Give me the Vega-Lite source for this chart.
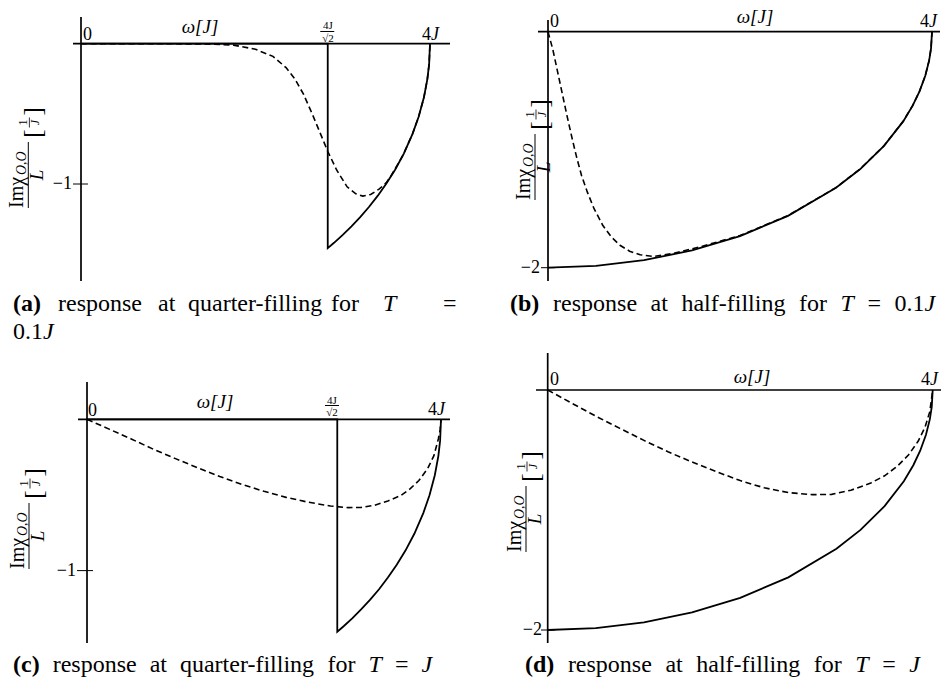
{
  "$schema": "https://vega.github.io/schema/vega-lite/v6.json",
  "padding": 0,
  "background": "white",
  "columns": 2,
  "spacing": 0,
  "bounds": "flush",
  "config": {"font": "Liberation Serif", "view": {"stroke": null}},
  "datasets": {
    "fig": [
      {"p":"a","k":"solid","i":0,"w":0,"v":0},
      {"p":"a","k":"solid","i":1,"w":2.828,"v":0},
      {"p":"a","k":"solid","i":2,"w":2.828,"v":-1.457},
      {"p":"a","k":"solid","i":3,"w":2.9,"v":-1.419},
      {"p":"a","k":"solid","i":4,"w":3.0,"v":-1.362},
      {"p":"a","k":"solid","i":5,"w":3.1,"v":-1.302},
      {"p":"a","k":"solid","i":6,"w":3.2,"v":-1.236},
      {"p":"a","k":"solid","i":7,"w":3.3,"v":-1.164},
      {"p":"a","k":"solid","i":8,"w":3.4,"v":-1.085},
      {"p":"a","k":"solid","i":9,"w":3.5,"v":-0.997},
      {"p":"a","k":"solid","i":10,"w":3.6,"v":-0.898},
      {"p":"a","k":"solid","i":11,"w":3.7,"v":-0.783},
      {"p":"a","k":"solid","i":12,"w":3.8,"v":-0.643},
      {"p":"a","k":"solid","i":13,"w":3.87,"v":-0.521},
      {"p":"a","k":"solid","i":14,"w":3.93,"v":-0.384},
      {"p":"a","k":"solid","i":15,"w":3.97,"v":-0.252},
      {"p":"a","k":"solid","i":16,"w":3.99,"v":-0.146},
      {"p":"a","k":"solid","i":17,"w":4.0,"v":0},
      {"p":"a","k":"dashed","i":0,"w":0,"v":0},
      {"p":"a","k":"dashed","i":1,"w":1.0,"v":0},
      {"p":"a","k":"dashed","i":2,"w":1.5,"v":-0.003},
      {"p":"a","k":"dashed","i":3,"w":1.75,"v":-0.01},
      {"p":"a","k":"dashed","i":4,"w":2.0,"v":-0.04},
      {"p":"a","k":"dashed","i":5,"w":2.2,"v":-0.09},
      {"p":"a","k":"dashed","i":6,"w":2.35,"v":-0.17},
      {"p":"a","k":"dashed","i":7,"w":2.45,"v":-0.25},
      {"p":"a","k":"dashed","i":8,"w":2.55,"v":-0.36},
      {"p":"a","k":"dashed","i":9,"w":2.65,"v":-0.5},
      {"p":"a","k":"dashed","i":10,"w":2.75,"v":-0.65},
      {"p":"a","k":"dashed","i":11,"w":2.83,"v":-0.77},
      {"p":"a","k":"dashed","i":12,"w":2.93,"v":-0.9},
      {"p":"a","k":"dashed","i":13,"w":3.05,"v":-1.02},
      {"p":"a","k":"dashed","i":14,"w":3.15,"v":-1.07},
      {"p":"a","k":"dashed","i":15,"w":3.23,"v":-1.086},
      {"p":"a","k":"dashed","i":16,"w":3.32,"v":-1.075},
      {"p":"a","k":"dashed","i":17,"w":3.42,"v":-1.035},
      {"p":"a","k":"dashed","i":18,"w":3.5,"v":-0.99},
      {"p":"a","k":"dashed","i":19,"w":3.56,"v":-0.935},
      {"p":"a","k":"dashed","i":20,"w":3.65,"v":-0.84},
      {"p":"a","k":"dashed","i":21,"w":3.7,"v":-0.782},
      {"p":"a","k":"dashed","i":22,"w":3.8,"v":-0.642},
      {"p":"a","k":"dashed","i":23,"w":3.87,"v":-0.52},
      {"p":"a","k":"dashed","i":24,"w":3.93,"v":-0.384},
      {"p":"a","k":"dashed","i":25,"w":3.97,"v":-0.25},
      {"p":"a","k":"dashed","i":26,"w":3.99,"v":-0.146},
      {"p":"a","k":"dashed","i":27,"w":4.0,"v":0},
      {"p":"a","k":"axis","w":-0.0917,"v":0,"w2":4.2292,"v2":0},
      {"p":"a","k":"axis","w":0,"v":0.1903,"w2":0,"v2":-1.6914},
      {"p":"a","k":"thin","w":-0.0917,"v":-1,"w2":0.0802,"v2":-1},
      {"p":"a","k":"thin","w":2.742,"v":0.087,"w2":2.9026,"v2":0.087},
      {"p":"a","k":"lbl","w":0.0229,"v":0.0264,"t":"0"},
      {"p":"a","k":"omega","w":1.3639,"v":0.0763,"t":"ω[J]"},
      {"p":"a","k":"small","w":2.8309,"v":0.1048,"t":"4J"},
      {"p":"a","k":"small","w":2.8309,"v":0.0121,"t":"√2"},
      {"p":"a","k":"fourJ","w":4.0115,"v":0.0264},
      {"p":"a","k":"lblr","w":-0.1032,"v":-1,"t":"−1"},
      {"p":"a","k":"yt","w":-0.604,"v":-0.936},
      {"p":"a","k":"cb","w":-0.7794,"v":-1.9052,"t":"(a)"},
      {"p":"a","k":"cr","w":-0.2636,"v":-1.9052,"t":"response"},
      {"p":"a","k":"cr","w":0.8825,"v":-1.9052,"t":"at"},
      {"p":"a","k":"cr","w":1.2264,"v":-1.9052,"t":"quarter-filling"},
      {"p":"a","k":"cr","w":2.8653,"v":-1.9052,"t":"for"},
      {"p":"a","k":"ci","w":3.4613,"v":-1.9052,"t":"T"},
      {"p":"a","k":"cr","w":4.149,"v":-1.9052,"t":"="},
      {"p":"a","k":"cr","w":-0.7794,"v":-2.1048,"t":"0.1"},
      {"p":"a","k":"ci","w":-0.4355,"v":-2.1048,"t":"J"},

      {"p":"b","k":"solid","i":0,"w":0,"v":-2},
      {"p":"b","k":"solid","i":1,"w":0.5,"v":-1.984},
      {"p":"b","k":"solid","i":2,"w":1.0,"v":-1.936},
      {"p":"b","k":"solid","i":3,"w":1.5,"v":-1.854},
      {"p":"b","k":"solid","i":4,"w":2.0,"v":-1.732},
      {"p":"b","k":"solid","i":5,"w":2.5,"v":-1.561},
      {"p":"b","k":"solid","i":6,"w":3.0,"v":-1.323},
      {"p":"b","k":"solid","i":7,"w":3.25,"v":-1.166},
      {"p":"b","k":"solid","i":8,"w":3.5,"v":-0.968},
      {"p":"b","k":"solid","i":9,"w":3.7,"v":-0.76},
      {"p":"b","k":"solid","i":10,"w":3.8,"v":-0.625},
      {"p":"b","k":"solid","i":11,"w":3.87,"v":-0.506},
      {"p":"b","k":"solid","i":12,"w":3.93,"v":-0.373},
      {"p":"b","k":"solid","i":13,"w":3.97,"v":-0.245},
      {"p":"b","k":"solid","i":14,"w":3.99,"v":-0.141},
      {"p":"b","k":"solid","i":15,"w":4.0,"v":0},
      {"p":"b","k":"dashed","i":0,"w":0,"v":0},
      {"p":"b","k":"dashed","i":1,"w":0.05,"v":-0.15},
      {"p":"b","k":"dashed","i":2,"w":0.1,"v":-0.34},
      {"p":"b","k":"dashed","i":3,"w":0.15,"v":-0.53},
      {"p":"b","k":"dashed","i":4,"w":0.2,"v":-0.72},
      {"p":"b","k":"dashed","i":5,"w":0.25,"v":-0.9},
      {"p":"b","k":"dashed","i":6,"w":0.3,"v":-1.07},
      {"p":"b","k":"dashed","i":7,"w":0.35,"v":-1.22},
      {"p":"b","k":"dashed","i":8,"w":0.41,"v":-1.36},
      {"p":"b","k":"dashed","i":9,"w":0.48,"v":-1.5},
      {"p":"b","k":"dashed","i":10,"w":0.57,"v":-1.64},
      {"p":"b","k":"dashed","i":11,"w":0.66,"v":-1.74},
      {"p":"b","k":"dashed","i":12,"w":0.75,"v":-1.81},
      {"p":"b","k":"dashed","i":13,"w":0.85,"v":-1.86},
      {"p":"b","k":"dashed","i":14,"w":0.96,"v":-1.89},
      {"p":"b","k":"dashed","i":15,"w":1.1,"v":-1.905},
      {"p":"b","k":"dashed","i":16,"w":1.3,"v":-1.88},
      {"p":"b","k":"dashed","i":17,"w":1.6,"v":-1.82},
      {"p":"b","k":"dashed","i":18,"w":2.0,"v":-1.728},
      {"p":"b","k":"dashed","i":19,"w":2.5,"v":-1.558},
      {"p":"b","k":"dashed","i":20,"w":3.0,"v":-1.321},
      {"p":"b","k":"dashed","i":21,"w":3.25,"v":-1.164},
      {"p":"b","k":"dashed","i":22,"w":3.5,"v":-0.967},
      {"p":"b","k":"dashed","i":23,"w":3.7,"v":-0.759},
      {"p":"b","k":"dashed","i":24,"w":3.8,"v":-0.624},
      {"p":"b","k":"dashed","i":25,"w":3.87,"v":-0.505},
      {"p":"b","k":"dashed","i":26,"w":3.93,"v":-0.372},
      {"p":"b","k":"dashed","i":27,"w":3.97,"v":-0.244},
      {"p":"b","k":"dashed","i":28,"w":3.99,"v":-0.14},
      {"p":"b","k":"dashed","i":29,"w":4.0,"v":0},
      {"p":"b","k":"axis","w":-0.1042,"v":0,"w2":4.0833,"v2":0},
      {"p":"b","k":"axis","w":0,"v":0.0992,"w2":0,"v2":-2.1127},
      {"p":"b","k":"thin","w":-0.0729,"v":-2,"w2":0.0729,"v2":-2},
      {"p":"b","k":"lbl","w":0.0208,"v":0.0398,"t":"0"},
      {"p":"b","k":"omega","w":2.1563,"v":0.0712,"t":"ω[J]"},
      {"p":"b","k":"fourJ","w":3.9688,"v":0.0398},
      {"p":"b","k":"lblr","w":-0.0833,"v":-2,"t":"−2"},
      {"p":"b","k":"yt","w":-0.1354,"v":-1.1466},
      {"p":"b","k":"cb","w":-0.3958,"v":-2.3669,"t":"(b)"},
      {"p":"b","k":"cr","w":0.0528,"v":-2.3669,"t":"response"},
      {"p":"b","k":"cr","w":1.0686,"v":-2.3669,"t":"at"},
      {"p":"b","k":"cr","w":1.3902,"v":-2.3669,"t":"half-filling"},
      {"p":"b","k":"cr","w":2.6146,"v":-2.3669,"t":"for"},
      {"p":"b","k":"ci","w":3.0471,"v":-2.3669,"t":"T"},
      {"p":"b","k":"cr","w":3.3271,"v":-2.3669,"t":"="},
      {"p":"b","k":"cr","w":3.6092,"v":-2.3669,"t":"0.1"},
      {"p":"b","k":"ci","w":3.9217,"v":-2.3669,"t":"J"},

      {"p":"c","k":"solid","i":0,"w":0,"v":0},
      {"p":"c","k":"solid","i":1,"w":2.828,"v":0},
      {"p":"c","k":"solid","i":2,"w":2.828,"v":-1.404},
      {"p":"c","k":"solid","i":3,"w":2.9,"v":-1.368},
      {"p":"c","k":"solid","i":4,"w":3.0,"v":-1.314},
      {"p":"c","k":"solid","i":5,"w":3.1,"v":-1.255},
      {"p":"c","k":"solid","i":6,"w":3.2,"v":-1.192},
      {"p":"c","k":"solid","i":7,"w":3.3,"v":-1.123},
      {"p":"c","k":"solid","i":8,"w":3.4,"v":-1.046},
      {"p":"c","k":"solid","i":9,"w":3.5,"v":-0.961},
      {"p":"c","k":"solid","i":10,"w":3.6,"v":-0.866},
      {"p":"c","k":"solid","i":11,"w":3.7,"v":-0.755},
      {"p":"c","k":"solid","i":12,"w":3.8,"v":-0.62},
      {"p":"c","k":"solid","i":13,"w":3.87,"v":-0.502},
      {"p":"c","k":"solid","i":14,"w":3.93,"v":-0.37},
      {"p":"c","k":"solid","i":15,"w":3.97,"v":-0.243},
      {"p":"c","k":"solid","i":16,"w":3.99,"v":-0.141},
      {"p":"c","k":"solid","i":17,"w":4.0,"v":0},
      {"p":"c","k":"dashed","i":0,"w":0,"v":0},
      {"p":"c","k":"dashed","i":1,"w":0.25,"v":-0.065},
      {"p":"c","k":"dashed","i":2,"w":0.5,"v":-0.13},
      {"p":"c","k":"dashed","i":3,"w":0.75,"v":-0.198},
      {"p":"c","k":"dashed","i":4,"w":1.0,"v":-0.26},
      {"p":"c","k":"dashed","i":5,"w":1.25,"v":-0.32},
      {"p":"c","k":"dashed","i":6,"w":1.5,"v":-0.378},
      {"p":"c","k":"dashed","i":7,"w":1.75,"v":-0.43},
      {"p":"c","k":"dashed","i":8,"w":2.0,"v":-0.476},
      {"p":"c","k":"dashed","i":9,"w":2.25,"v":-0.516},
      {"p":"c","k":"dashed","i":10,"w":2.5,"v":-0.548},
      {"p":"c","k":"dashed","i":11,"w":2.75,"v":-0.573},
      {"p":"c","k":"dashed","i":12,"w":2.95,"v":-0.584},
      {"p":"c","k":"dashed","i":13,"w":3.1,"v":-0.582},
      {"p":"c","k":"dashed","i":14,"w":3.25,"v":-0.568},
      {"p":"c","k":"dashed","i":15,"w":3.4,"v":-0.54},
      {"p":"c","k":"dashed","i":16,"w":3.55,"v":-0.502},
      {"p":"c","k":"dashed","i":17,"w":3.65,"v":-0.46},
      {"p":"c","k":"dashed","i":18,"w":3.75,"v":-0.405},
      {"p":"c","k":"dashed","i":19,"w":3.85,"v":-0.325},
      {"p":"c","k":"dashed","i":20,"w":3.92,"v":-0.24},
      {"p":"c","k":"dashed","i":21,"w":3.97,"v":-0.13},
      {"p":"c","k":"dashed","i":22,"w":3.99,"v":-0.07},
      {"p":"c","k":"dashed","i":23,"w":4.0,"v":0},
      {"p":"c","k":"axis","w":-0.1017,"v":0,"w2":4.1017,"v2":0},
      {"p":"c","k":"axis","w":0,"v":0.2465,"w2":0,"v2":-1.4785},
      {"p":"c","k":"thin","w":-0.113,"v":-1,"w2":0.0678,"v2":-1},
      {"p":"c","k":"thin","w":2.6893,"v":0.0912,"w2":2.8475,"v2":0.0912},
      {"p":"c","k":"lbl","w":0.0113,"v":0.0218,"t":"0"},
      {"p":"c","k":"omega","w":1.4463,"v":0.0747,"t":"ω[J]"},
      {"p":"c","k":"small","w":2.7684,"v":0.1011,"t":"4J"},
      {"p":"c","k":"small","w":2.7684,"v":0.0218,"t":"√2"},
      {"p":"c","k":"fourJ","w":3.9548,"v":0.0284},
      {"p":"c","k":"lblr","w":-0.1243,"v":-1,"t":"−1"},
      {"p":"c","k":"yt","w":-0.6554,"v":-0.7713},
      {"p":"c","k":"cb","w":-0.8362,"v":-1.6702,"t":"(c)"},
      {"p":"c","k":"cr","w":-0.3882,"v":-1.6702,"t":"response"},
      {"p":"c","k":"cr","w":0.7076,"v":-1.6702,"t":"at"},
      {"p":"c","k":"cr","w":1.0503,"v":-1.6702,"t":"quarter-filling"},
      {"p":"c","k":"cr","w":2.7185,"v":-1.6702,"t":"for"},
      {"p":"c","k":"ci","w":3.1816,"v":-1.6702,"t":"T"},
      {"p":"c","k":"cr","w":3.4792,"v":-1.6702,"t":"="},
      {"p":"c","k":"ci","w":3.7791,"v":-1.6702,"t":"J"},

      {"p":"d","k":"solid","i":0,"w":0,"v":-2},
      {"p":"d","k":"solid","i":1,"w":0.5,"v":-1.984},
      {"p":"d","k":"solid","i":2,"w":1.0,"v":-1.936},
      {"p":"d","k":"solid","i":3,"w":1.5,"v":-1.854},
      {"p":"d","k":"solid","i":4,"w":2.0,"v":-1.732},
      {"p":"d","k":"solid","i":5,"w":2.5,"v":-1.561},
      {"p":"d","k":"solid","i":6,"w":3.0,"v":-1.323},
      {"p":"d","k":"solid","i":7,"w":3.25,"v":-1.166},
      {"p":"d","k":"solid","i":8,"w":3.5,"v":-0.968},
      {"p":"d","k":"solid","i":9,"w":3.7,"v":-0.76},
      {"p":"d","k":"solid","i":10,"w":3.8,"v":-0.625},
      {"p":"d","k":"solid","i":11,"w":3.87,"v":-0.506},
      {"p":"d","k":"solid","i":12,"w":3.93,"v":-0.373},
      {"p":"d","k":"solid","i":13,"w":3.97,"v":-0.245},
      {"p":"d","k":"solid","i":14,"w":3.99,"v":-0.141},
      {"p":"d","k":"solid","i":15,"w":4.0,"v":0},
      {"p":"d","k":"dashed","i":0,"w":0,"v":0},
      {"p":"d","k":"dashed","i":1,"w":0.25,"v":-0.11},
      {"p":"d","k":"dashed","i":2,"w":0.5,"v":-0.218},
      {"p":"d","k":"dashed","i":3,"w":0.75,"v":-0.32},
      {"p":"d","k":"dashed","i":4,"w":1.0,"v":-0.42},
      {"p":"d","k":"dashed","i":5,"w":1.25,"v":-0.515},
      {"p":"d","k":"dashed","i":6,"w":1.5,"v":-0.6},
      {"p":"d","k":"dashed","i":7,"w":1.75,"v":-0.68},
      {"p":"d","k":"dashed","i":8,"w":2.0,"v":-0.755},
      {"p":"d","k":"dashed","i":9,"w":2.25,"v":-0.815},
      {"p":"d","k":"dashed","i":10,"w":2.5,"v":-0.855},
      {"p":"d","k":"dashed","i":11,"w":2.75,"v":-0.872},
      {"p":"d","k":"dashed","i":12,"w":2.95,"v":-0.87},
      {"p":"d","k":"dashed","i":13,"w":3.15,"v":-0.835},
      {"p":"d","k":"dashed","i":14,"w":3.35,"v":-0.778},
      {"p":"d","k":"dashed","i":15,"w":3.5,"v":-0.715},
      {"p":"d","k":"dashed","i":16,"w":3.63,"v":-0.637},
      {"p":"d","k":"dashed","i":17,"w":3.75,"v":-0.54},
      {"p":"d","k":"dashed","i":18,"w":3.85,"v":-0.425},
      {"p":"d","k":"dashed","i":19,"w":3.92,"v":-0.31},
      {"p":"d","k":"dashed","i":20,"w":3.97,"v":-0.18},
      {"p":"d","k":"dashed","i":21,"w":4.0,"v":0},
      {"p":"d","k":"axis","w":-0.1216,"v":0,"w2":4.0862,"v2":0},
      {"p":"d","k":"axis","w":0,"v":0.3083,"w2":0,"v2":-2.1083},
      {"p":"d","k":"thin","w":-0.0696,"v":-2,"w2":0.0758,"v2":-2},
      {"p":"d","k":"lbl","w":0.0239,"v":0.0417,"t":"0"},
      {"p":"d","k":"omega","w":2.1226,"v":0.0583,"t":"ω[J]"},
      {"p":"d","k":"fourJ","w":3.9719,"v":0.0417},
      {"p":"d","k":"lblr","w":-0.0592,"v":-2,"t":"−2"},
      {"p":"d","k":"yt","w":-0.2255,"v":-1.075},
      {"p":"d","k":"cb","w":-0.2358,"v":-2.35,"t":"(d)"},
      {"p":"d","k":"cr","w":0.2096,"v":-2.35,"t":"response"},
      {"p":"d","k":"cr","w":1.2228,"v":-2.35,"t":"at"},
      {"p":"d","k":"cr","w":1.5435,"v":-2.35,"t":"half-filling"},
      {"p":"d","k":"cr","w":2.7647,"v":-2.35,"t":"for"},
      {"p":"d","k":"ci","w":3.196,"v":-2.35,"t":"T"},
      {"p":"d","k":"cr","w":3.4753,"v":-2.35,"t":"="},
      {"p":"d","k":"ci","w":3.7567,"v":-2.35,"t":"J"}
    ]
  },
  "concat": [
    {
      "width": 470, "height": 330,
      "data": {"name": "fig"},
      "transform": [{"filter": "datum.p == 'a'"}],
      "encoding": {
        "x": {"field": "w", "type": "quantitative", "scale": {"domain": [-0.9284, 4.4585], "nice": false, "zero": false}, "axis": null},
        "y": {"field": "v", "type": "quantitative", "scale": {"domain": [-2.0406, 0.3115], "nice": false, "zero": false}, "axis": null}
      },
      "layer": [
        {"transform": [{"filter": "datum.k == 'axis'"}], "mark": {"type": "rule", "color": "black", "strokeWidth": 1.7}, "encoding": {"x2": {"field": "w2"}, "y2": {"field": "v2"}}},
        {"transform": [{"filter": "datum.k == 'thin'"}], "mark": {"type": "rule", "color": "black", "strokeWidth": 1}, "encoding": {"x2": {"field": "w2"}, "y2": {"field": "v2"}}},
        {"transform": [{"filter": "datum.k == 'solid'"}], "mark": {"type": "line", "color": "black", "strokeWidth": 1.8}, "encoding": {"order": {"field": "i", "type": "quantitative"}}},
        {"transform": [{"filter": "datum.k == 'dashed'"}], "mark": {"type": "line", "color": "black", "strokeWidth": 1.6, "strokeDash": [6, 3.5]}, "encoding": {"order": {"field": "i", "type": "quantitative"}}},
        {"transform": [{"filter": "datum.k == 'lbl'"}], "mark": {"type": "text", "fontSize": 18, "align": "left", "baseline": "alphabetic"}, "encoding": {"text": {"field": "t"}}},
        {"transform": [{"filter": "datum.k == 'lblr'"}], "mark": {"type": "text", "fontSize": 18, "align": "right", "baseline": "middle"}, "encoding": {"text": {"field": "t"}}},
        {"transform": [{"filter": "datum.k == 'fourJ'"}], "mark": {"type": "text", "text": "4", "fontSize": 18, "align": "right", "baseline": "alphabetic"}},
        {"transform": [{"filter": "datum.k == 'fourJ'"}], "mark": {"type": "text", "text": "J", "fontSize": 18, "fontStyle": "italic", "align": "left", "baseline": "alphabetic"}},
        {"transform": [{"filter": "datum.k == 'omega'"}], "mark": {"type": "text", "fontSize": 19, "fontStyle": "italic", "align": "center", "baseline": "alphabetic"}, "encoding": {"text": {"field": "t"}}},
        {"transform": [{"filter": "datum.k == 'small'"}], "mark": {"type": "text", "fontSize": 11, "align": "center", "baseline": "alphabetic"}, "encoding": {"text": {"field": "t"}}},
        {"transform": [{"filter": "datum.k == 'cb'"}], "mark": {"type": "text", "fontSize": 24, "fontWeight": "bold", "align": "left", "baseline": "alphabetic"}, "encoding": {"text": {"field": "t"}}},
        {"transform": [{"filter": "datum.k == 'cr'"}], "mark": {"type": "text", "fontSize": 24, "align": "left", "baseline": "alphabetic"}, "encoding": {"text": {"field": "t"}}},
        {"transform": [{"filter": "datum.k == 'ci'"}], "mark": {"type": "text", "fontSize": 24, "fontStyle": "italic", "align": "left", "baseline": "alphabetic"}, "encoding": {"text": {"field": "t"}}},
        {"transform": [{"filter": "datum.k == 'yt'"}], "mark": {"type": "text", "text": "Imχ", "angle": 270, "fontSize": 20, "align": "left", "baseline": "alphabetic", "dx": -33, "dy": -5}},
        {"transform": [{"filter": "datum.k == 'yt'"}], "mark": {"type": "text", "text": "O,O", "angle": 270, "fontSize": 14, "fontStyle": "italic", "align": "left", "baseline": "alphabetic", "dx": 0, "dy": -2}},
        {"transform": [{"filter": "datum.k == 'yt'"}], "mark": {"type": "tick", "orient": "vertical", "size": 66, "thickness": 1, "color": "black", "opacity": 1}},
        {"transform": [{"filter": "datum.k == 'yt'"}], "mark": {"type": "text", "text": "L", "angle": 270, "fontSize": 19, "fontStyle": "italic", "align": "center", "baseline": "alphabetic", "dy": 15}},
        {"transform": [{"filter": "datum.k == 'yt'"}], "mark": {"type": "text", "text": "[", "angle": 270, "fontSize": 26, "align": "left", "baseline": "alphabetic", "dx": 37, "dy": 13}},
        {"transform": [{"filter": "datum.k == 'yt'"}], "mark": {"type": "text", "text": "1", "angle": 270, "fontSize": 12, "align": "center", "baseline": "alphabetic", "dx": 52.5, "dy": -1}},
        {"transform": [{"filter": "datum.k == 'yt'"}], "mark": {"type": "tick", "orient": "vertical", "size": 10, "thickness": 0.8, "color": "black", "opacity": 1, "yOffset": -52.5, "xOffset": 1}},
        {"transform": [{"filter": "datum.k == 'yt'"}], "mark": {"type": "text", "text": "J", "angle": 270, "fontSize": 12, "fontStyle": "italic", "align": "center", "baseline": "alphabetic", "dx": 52.5, "dy": 11}},
        {"transform": [{"filter": "datum.k == 'yt'"}], "mark": {"type": "text", "text": "]", "angle": 270, "fontSize": 26, "align": "right", "baseline": "alphabetic", "dx": 68, "dy": 13}}
      ]
    },
    {
      "width": 471, "height": 330,
      "data": {"name": "fig"},
      "transform": [{"filter": "datum.p == 'b'"}],
      "encoding": {
        "x": {"field": "w", "type": "quantitative", "scale": {"domain": [-0.8125, 4.09375], "nice": false, "zero": false}, "axis": null},
        "y": {"field": "v", "type": "quantitative", "scale": {"domain": [-2.528, 0.2686], "nice": false, "zero": false}, "axis": null}
      },
      "layer": [
        {"transform": [{"filter": "datum.k == 'axis'"}], "mark": {"type": "rule", "color": "black", "strokeWidth": 1.7}, "encoding": {"x2": {"field": "w2"}, "y2": {"field": "v2"}}},
        {"transform": [{"filter": "datum.k == 'thin'"}], "mark": {"type": "rule", "color": "black", "strokeWidth": 1}, "encoding": {"x2": {"field": "w2"}, "y2": {"field": "v2"}}},
        {"transform": [{"filter": "datum.k == 'solid'"}], "mark": {"type": "line", "color": "black", "strokeWidth": 1.8}, "encoding": {"order": {"field": "i", "type": "quantitative"}}},
        {"transform": [{"filter": "datum.k == 'dashed'"}], "mark": {"type": "line", "color": "black", "strokeWidth": 1.6, "strokeDash": [6, 3.5]}, "encoding": {"order": {"field": "i", "type": "quantitative"}}},
        {"transform": [{"filter": "datum.k == 'lbl'"}], "mark": {"type": "text", "fontSize": 18, "align": "left", "baseline": "alphabetic"}, "encoding": {"text": {"field": "t"}}},
        {"transform": [{"filter": "datum.k == 'lblr'"}], "mark": {"type": "text", "fontSize": 18, "align": "right", "baseline": "middle"}, "encoding": {"text": {"field": "t"}}},
        {"transform": [{"filter": "datum.k == 'fourJ'"}], "mark": {"type": "text", "text": "4", "fontSize": 18, "align": "right", "baseline": "alphabetic"}},
        {"transform": [{"filter": "datum.k == 'fourJ'"}], "mark": {"type": "text", "text": "J", "fontSize": 18, "fontStyle": "italic", "align": "left", "baseline": "alphabetic"}},
        {"transform": [{"filter": "datum.k == 'omega'"}], "mark": {"type": "text", "fontSize": 19, "fontStyle": "italic", "align": "center", "baseline": "alphabetic"}, "encoding": {"text": {"field": "t"}}},
        {"transform": [{"filter": "datum.k == 'small'"}], "mark": {"type": "text", "fontSize": 11, "align": "center", "baseline": "alphabetic"}, "encoding": {"text": {"field": "t"}}},
        {"transform": [{"filter": "datum.k == 'cb'"}], "mark": {"type": "text", "fontSize": 24, "fontWeight": "bold", "align": "left", "baseline": "alphabetic"}, "encoding": {"text": {"field": "t"}}},
        {"transform": [{"filter": "datum.k == 'cr'"}], "mark": {"type": "text", "fontSize": 24, "align": "left", "baseline": "alphabetic"}, "encoding": {"text": {"field": "t"}}},
        {"transform": [{"filter": "datum.k == 'ci'"}], "mark": {"type": "text", "fontSize": 24, "fontStyle": "italic", "align": "left", "baseline": "alphabetic"}, "encoding": {"text": {"field": "t"}}},
        {"transform": [{"filter": "datum.k == 'yt'"}], "mark": {"type": "text", "text": "Imχ", "angle": 270, "fontSize": 20, "align": "left", "baseline": "alphabetic", "dx": -33, "dy": -5}},
        {"transform": [{"filter": "datum.k == 'yt'"}], "mark": {"type": "text", "text": "O,O", "angle": 270, "fontSize": 14, "fontStyle": "italic", "align": "left", "baseline": "alphabetic", "dx": 0, "dy": -2}},
        {"transform": [{"filter": "datum.k == 'yt'"}], "mark": {"type": "tick", "orient": "vertical", "size": 66, "thickness": 1, "color": "black", "opacity": 1}},
        {"transform": [{"filter": "datum.k == 'yt'"}], "mark": {"type": "text", "text": "L", "angle": 270, "fontSize": 19, "fontStyle": "italic", "align": "center", "baseline": "alphabetic", "dy": 15}},
        {"transform": [{"filter": "datum.k == 'yt'"}], "mark": {"type": "text", "text": "[", "angle": 270, "fontSize": 26, "align": "left", "baseline": "alphabetic", "dx": 37, "dy": 13}},
        {"transform": [{"filter": "datum.k == 'yt'"}], "mark": {"type": "text", "text": "1", "angle": 270, "fontSize": 12, "align": "center", "baseline": "alphabetic", "dx": 52.5, "dy": -1}},
        {"transform": [{"filter": "datum.k == 'yt'"}], "mark": {"type": "tick", "orient": "vertical", "size": 10, "thickness": 0.8, "color": "black", "opacity": 1, "yOffset": -52.5, "xOffset": 1}},
        {"transform": [{"filter": "datum.k == 'yt'"}], "mark": {"type": "text", "text": "J", "angle": 270, "fontSize": 12, "fontStyle": "italic", "align": "center", "baseline": "alphabetic", "dx": 52.5, "dy": 11}},
        {"transform": [{"filter": "datum.k == 'yt'"}], "mark": {"type": "text", "text": "]", "angle": 270, "fontSize": 26, "align": "right", "baseline": "alphabetic", "dx": 68, "dy": 13}}
      ]
    },
    {
      "width": 470, "height": 352,
      "data": {"name": "fig"},
      "transform": [{"filter": "datum.p == 'c'"}],
      "encoding": {
        "x": {"field": "w", "type": "quantitative", "scale": {"domain": [-0.9831, 4.3277], "nice": false, "zero": false}, "axis": null},
        "y": {"field": "v", "type": "quantitative", "scale": {"domain": [-1.7363, 0.5902], "nice": false, "zero": false}, "axis": null}
      },
      "layer": [
        {"transform": [{"filter": "datum.k == 'axis'"}], "mark": {"type": "rule", "color": "black", "strokeWidth": 1.7}, "encoding": {"x2": {"field": "w2"}, "y2": {"field": "v2"}}},
        {"transform": [{"filter": "datum.k == 'thin'"}], "mark": {"type": "rule", "color": "black", "strokeWidth": 1}, "encoding": {"x2": {"field": "w2"}, "y2": {"field": "v2"}}},
        {"transform": [{"filter": "datum.k == 'solid'"}], "mark": {"type": "line", "color": "black", "strokeWidth": 1.8}, "encoding": {"order": {"field": "i", "type": "quantitative"}}},
        {"transform": [{"filter": "datum.k == 'dashed'"}], "mark": {"type": "line", "color": "black", "strokeWidth": 1.6, "strokeDash": [6, 3.5]}, "encoding": {"order": {"field": "i", "type": "quantitative"}}},
        {"transform": [{"filter": "datum.k == 'lbl'"}], "mark": {"type": "text", "fontSize": 18, "align": "left", "baseline": "alphabetic"}, "encoding": {"text": {"field": "t"}}},
        {"transform": [{"filter": "datum.k == 'lblr'"}], "mark": {"type": "text", "fontSize": 18, "align": "right", "baseline": "middle"}, "encoding": {"text": {"field": "t"}}},
        {"transform": [{"filter": "datum.k == 'fourJ'"}], "mark": {"type": "text", "text": "4", "fontSize": 18, "align": "right", "baseline": "alphabetic"}},
        {"transform": [{"filter": "datum.k == 'fourJ'"}], "mark": {"type": "text", "text": "J", "fontSize": 18, "fontStyle": "italic", "align": "left", "baseline": "alphabetic"}},
        {"transform": [{"filter": "datum.k == 'omega'"}], "mark": {"type": "text", "fontSize": 19, "fontStyle": "italic", "align": "center", "baseline": "alphabetic"}, "encoding": {"text": {"field": "t"}}},
        {"transform": [{"filter": "datum.k == 'small'"}], "mark": {"type": "text", "fontSize": 11, "align": "center", "baseline": "alphabetic"}, "encoding": {"text": {"field": "t"}}},
        {"transform": [{"filter": "datum.k == 'cb'"}], "mark": {"type": "text", "fontSize": 24, "fontWeight": "bold", "align": "left", "baseline": "alphabetic"}, "encoding": {"text": {"field": "t"}}},
        {"transform": [{"filter": "datum.k == 'cr'"}], "mark": {"type": "text", "fontSize": 24, "align": "left", "baseline": "alphabetic"}, "encoding": {"text": {"field": "t"}}},
        {"transform": [{"filter": "datum.k == 'ci'"}], "mark": {"type": "text", "fontSize": 24, "fontStyle": "italic", "align": "left", "baseline": "alphabetic"}, "encoding": {"text": {"field": "t"}}},
        {"transform": [{"filter": "datum.k == 'yt'"}], "mark": {"type": "text", "text": "Imχ", "angle": 270, "fontSize": 20, "align": "left", "baseline": "alphabetic", "dx": -33, "dy": -5}},
        {"transform": [{"filter": "datum.k == 'yt'"}], "mark": {"type": "text", "text": "O,O", "angle": 270, "fontSize": 14, "fontStyle": "italic", "align": "left", "baseline": "alphabetic", "dx": 0, "dy": -2}},
        {"transform": [{"filter": "datum.k == 'yt'"}], "mark": {"type": "tick", "orient": "vertical", "size": 66, "thickness": 1, "color": "black", "opacity": 1}},
        {"transform": [{"filter": "datum.k == 'yt'"}], "mark": {"type": "text", "text": "L", "angle": 270, "fontSize": 19, "fontStyle": "italic", "align": "center", "baseline": "alphabetic", "dy": 15}},
        {"transform": [{"filter": "datum.k == 'yt'"}], "mark": {"type": "text", "text": "[", "angle": 270, "fontSize": 26, "align": "left", "baseline": "alphabetic", "dx": 37, "dy": 13}},
        {"transform": [{"filter": "datum.k == 'yt'"}], "mark": {"type": "text", "text": "1", "angle": 270, "fontSize": 12, "align": "center", "baseline": "alphabetic", "dx": 52.5, "dy": -1}},
        {"transform": [{"filter": "datum.k == 'yt'"}], "mark": {"type": "tick", "orient": "vertical", "size": 10, "thickness": 0.8, "color": "black", "opacity": 1, "yOffset": -52.5, "xOffset": 1}},
        {"transform": [{"filter": "datum.k == 'yt'"}], "mark": {"type": "text", "text": "J", "angle": 270, "fontSize": 12, "fontStyle": "italic", "align": "center", "baseline": "alphabetic", "dx": 52.5, "dy": 11}},
        {"transform": [{"filter": "datum.k == 'yt'"}], "mark": {"type": "text", "text": "]", "angle": 270, "fontSize": 26, "align": "right", "baseline": "alphabetic", "dx": 68, "dy": 13}}
      ]
    },
    {
      "width": 471, "height": 352,
      "data": {"name": "fig"},
      "transform": [{"filter": "datum.p == 'd'"}],
      "encoding": {
        "x": {"field": "w", "type": "quantitative", "scale": {"domain": [-0.8073, 4.0862], "nice": false, "zero": false}, "axis": null},
        "y": {"field": "v", "type": "quantitative", "scale": {"domain": [-2.4333, 0.5], "nice": false, "zero": false}, "axis": null}
      },
      "layer": [
        {"transform": [{"filter": "datum.k == 'axis'"}], "mark": {"type": "rule", "color": "black", "strokeWidth": 1.7}, "encoding": {"x2": {"field": "w2"}, "y2": {"field": "v2"}}},
        {"transform": [{"filter": "datum.k == 'thin'"}], "mark": {"type": "rule", "color": "black", "strokeWidth": 1}, "encoding": {"x2": {"field": "w2"}, "y2": {"field": "v2"}}},
        {"transform": [{"filter": "datum.k == 'solid'"}], "mark": {"type": "line", "color": "black", "strokeWidth": 1.8}, "encoding": {"order": {"field": "i", "type": "quantitative"}}},
        {"transform": [{"filter": "datum.k == 'dashed'"}], "mark": {"type": "line", "color": "black", "strokeWidth": 1.6, "strokeDash": [6, 3.5]}, "encoding": {"order": {"field": "i", "type": "quantitative"}}},
        {"transform": [{"filter": "datum.k == 'lbl'"}], "mark": {"type": "text", "fontSize": 18, "align": "left", "baseline": "alphabetic"}, "encoding": {"text": {"field": "t"}}},
        {"transform": [{"filter": "datum.k == 'lblr'"}], "mark": {"type": "text", "fontSize": 18, "align": "right", "baseline": "middle"}, "encoding": {"text": {"field": "t"}}},
        {"transform": [{"filter": "datum.k == 'fourJ'"}], "mark": {"type": "text", "text": "4", "fontSize": 18, "align": "right", "baseline": "alphabetic"}},
        {"transform": [{"filter": "datum.k == 'fourJ'"}], "mark": {"type": "text", "text": "J", "fontSize": 18, "fontStyle": "italic", "align": "left", "baseline": "alphabetic"}},
        {"transform": [{"filter": "datum.k == 'omega'"}], "mark": {"type": "text", "fontSize": 19, "fontStyle": "italic", "align": "center", "baseline": "alphabetic"}, "encoding": {"text": {"field": "t"}}},
        {"transform": [{"filter": "datum.k == 'small'"}], "mark": {"type": "text", "fontSize": 11, "align": "center", "baseline": "alphabetic"}, "encoding": {"text": {"field": "t"}}},
        {"transform": [{"filter": "datum.k == 'cb'"}], "mark": {"type": "text", "fontSize": 24, "fontWeight": "bold", "align": "left", "baseline": "alphabetic"}, "encoding": {"text": {"field": "t"}}},
        {"transform": [{"filter": "datum.k == 'cr'"}], "mark": {"type": "text", "fontSize": 24, "align": "left", "baseline": "alphabetic"}, "encoding": {"text": {"field": "t"}}},
        {"transform": [{"filter": "datum.k == 'ci'"}], "mark": {"type": "text", "fontSize": 24, "fontStyle": "italic", "align": "left", "baseline": "alphabetic"}, "encoding": {"text": {"field": "t"}}},
        {"transform": [{"filter": "datum.k == 'yt'"}], "mark": {"type": "text", "text": "Imχ", "angle": 270, "fontSize": 20, "align": "left", "baseline": "alphabetic", "dx": -33, "dy": -5}},
        {"transform": [{"filter": "datum.k == 'yt'"}], "mark": {"type": "text", "text": "O,O", "angle": 270, "fontSize": 14, "fontStyle": "italic", "align": "left", "baseline": "alphabetic", "dx": 0, "dy": -2}},
        {"transform": [{"filter": "datum.k == 'yt'"}], "mark": {"type": "tick", "orient": "vertical", "size": 66, "thickness": 1, "color": "black", "opacity": 1}},
        {"transform": [{"filter": "datum.k == 'yt'"}], "mark": {"type": "text", "text": "L", "angle": 270, "fontSize": 19, "fontStyle": "italic", "align": "center", "baseline": "alphabetic", "dy": 15}},
        {"transform": [{"filter": "datum.k == 'yt'"}], "mark": {"type": "text", "text": "[", "angle": 270, "fontSize": 26, "align": "left", "baseline": "alphabetic", "dx": 37, "dy": 13}},
        {"transform": [{"filter": "datum.k == 'yt'"}], "mark": {"type": "text", "text": "1", "angle": 270, "fontSize": 12, "align": "center", "baseline": "alphabetic", "dx": 52.5, "dy": -1}},
        {"transform": [{"filter": "datum.k == 'yt'"}], "mark": {"type": "tick", "orient": "vertical", "size": 10, "thickness": 0.8, "color": "black", "opacity": 1, "yOffset": -52.5, "xOffset": 1}},
        {"transform": [{"filter": "datum.k == 'yt'"}], "mark": {"type": "text", "text": "J", "angle": 270, "fontSize": 12, "fontStyle": "italic", "align": "center", "baseline": "alphabetic", "dx": 52.5, "dy": 11}},
        {"transform": [{"filter": "datum.k == 'yt'"}], "mark": {"type": "text", "text": "]", "angle": 270, "fontSize": 26, "align": "right", "baseline": "alphabetic", "dx": 68, "dy": 13}}
      ]
    }
  ]
}
